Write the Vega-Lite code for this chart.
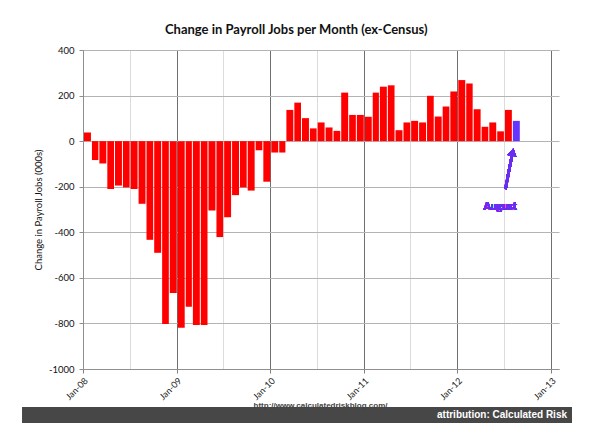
{
  "$schema": "https://vega.github.io/schema/vega-lite/v6.json",
  "background": "white",
  "padding": {"left": 22, "top": 24, "right": 5, "bottom": 2},
  "spacing": 0,
  "config": {"view": {"stroke": null}, "font": "Lato"},
  "vconcat": [
    {
      "title": {"text": "Change in Payroll Jobs per Month (ex-Census)", "font": "Lato", "fontSize": 13, "fontWeight": "bold", "color": "#111111", "anchor": "middle", "frame": "bounds", "offset": 8},
      "width": 476,
      "height": 319,
      "data": {"values": [
        {"month": "2008-01-01", "change": 38, "status": "earlier"},
        {"month": "2008-02-01", "change": -83, "status": "earlier"},
        {"month": "2008-03-01", "change": -98, "status": "earlier"},
        {"month": "2008-04-01", "change": -210, "status": "earlier"},
        {"month": "2008-05-01", "change": -195, "status": "earlier"},
        {"month": "2008-06-01", "change": -203, "status": "earlier"},
        {"month": "2008-07-01", "change": -210, "status": "earlier"},
        {"month": "2008-08-01", "change": -275, "status": "earlier"},
        {"month": "2008-09-01", "change": -433, "status": "earlier"},
        {"month": "2008-10-01", "change": -490, "status": "earlier"},
        {"month": "2008-11-01", "change": -803, "status": "earlier"},
        {"month": "2008-12-01", "change": -666, "status": "earlier"},
        {"month": "2009-01-01", "change": -819, "status": "earlier"},
        {"month": "2009-02-01", "change": -727, "status": "earlier"},
        {"month": "2009-03-01", "change": -807, "status": "earlier"},
        {"month": "2009-04-01", "change": -807, "status": "earlier"},
        {"month": "2009-05-01", "change": -304, "status": "earlier"},
        {"month": "2009-06-01", "change": -421, "status": "earlier"},
        {"month": "2009-07-01", "change": -334, "status": "earlier"},
        {"month": "2009-08-01", "change": -237, "status": "earlier"},
        {"month": "2009-09-01", "change": -203, "status": "earlier"},
        {"month": "2009-10-01", "change": -217, "status": "earlier"},
        {"month": "2009-11-01", "change": -40, "status": "earlier"},
        {"month": "2009-12-01", "change": -178, "status": "earlier"},
        {"month": "2010-01-01", "change": -50, "status": "earlier"},
        {"month": "2010-02-01", "change": -50, "status": "earlier"},
        {"month": "2010-03-01", "change": 137, "status": "earlier"},
        {"month": "2010-04-01", "change": 169, "status": "earlier"},
        {"month": "2010-05-01", "change": 101, "status": "earlier"},
        {"month": "2010-06-01", "change": 56, "status": "earlier"},
        {"month": "2010-07-01", "change": 82, "status": "earlier"},
        {"month": "2010-08-01", "change": 60, "status": "earlier"},
        {"month": "2010-09-01", "change": 45, "status": "earlier"},
        {"month": "2010-10-01", "change": 213, "status": "earlier"},
        {"month": "2010-11-01", "change": 115, "status": "earlier"},
        {"month": "2010-12-01", "change": 115, "status": "earlier"},
        {"month": "2011-01-01", "change": 107, "status": "earlier"},
        {"month": "2011-02-01", "change": 213, "status": "earlier"},
        {"month": "2011-03-01", "change": 239, "status": "earlier"},
        {"month": "2011-04-01", "change": 245, "status": "earlier"},
        {"month": "2011-05-01", "change": 48, "status": "earlier"},
        {"month": "2011-06-01", "change": 82, "status": "earlier"},
        {"month": "2011-07-01", "change": 89, "status": "earlier"},
        {"month": "2011-08-01", "change": 82, "status": "earlier"},
        {"month": "2011-09-01", "change": 199, "status": "earlier"},
        {"month": "2011-10-01", "change": 108, "status": "earlier"},
        {"month": "2011-11-01", "change": 152, "status": "earlier"},
        {"month": "2011-12-01", "change": 218, "status": "earlier"},
        {"month": "2012-01-01", "change": 268, "status": "earlier"},
        {"month": "2012-02-01", "change": 253, "status": "earlier"},
        {"month": "2012-03-01", "change": 140, "status": "earlier"},
        {"month": "2012-04-01", "change": 63, "status": "earlier"},
        {"month": "2012-05-01", "change": 82, "status": "earlier"},
        {"month": "2012-06-01", "change": 43, "status": "earlier"},
        {"month": "2012-07-01", "change": 137, "status": "earlier"},
        {"month": "2012-08-01", "change": 89, "status": "latest"}
      ]},
      "layer": [
        {
          "mark": {"type": "bar"},
          "encoding": {
            "x": {
              "field": "month", "timeUnit": "utcyearmonth", "type": "temporal",
              "scale": {"type": "utc", "domain": [{"year": 2008, "month": 1, "date": 1, "utc": true}, {"year": 2013, "month": 2, "date": 1, "utc": true}]},
              "axis": {
                "values": [
                  {"year": 2008, "month": 1, "date": 1, "utc": true}, {"year": 2008, "month": 4, "date": 1, "utc": true}, {"year": 2008, "month": 7, "date": 1, "utc": true}, {"year": 2008, "month": 10, "date": 1, "utc": true},
                  {"year": 2009, "month": 1, "date": 1, "utc": true}, {"year": 2009, "month": 4, "date": 1, "utc": true}, {"year": 2009, "month": 7, "date": 1, "utc": true}, {"year": 2009, "month": 10, "date": 1, "utc": true},
                  {"year": 2010, "month": 1, "date": 1, "utc": true}, {"year": 2010, "month": 4, "date": 1, "utc": true}, {"year": 2010, "month": 7, "date": 1, "utc": true}, {"year": 2010, "month": 10, "date": 1, "utc": true},
                  {"year": 2011, "month": 1, "date": 1, "utc": true}, {"year": 2011, "month": 4, "date": 1, "utc": true}, {"year": 2011, "month": 7, "date": 1, "utc": true}, {"year": 2011, "month": 10, "date": 1, "utc": true},
                  {"year": 2012, "month": 1, "date": 1, "utc": true}, {"year": 2012, "month": 4, "date": 1, "utc": true}, {"year": 2012, "month": 7, "date": 1, "utc": true}, {"year": 2012, "month": 10, "date": 1, "utc": true},
                  {"year": 2013, "month": 1, "date": 1, "utc": true}
                ],
                "labelExpr": "utcmonth(datum.value) === 0 ? utcFormat(datum.value, '%b-%y') : ''",
                "labelAngle": -45,
                "labelFont": "Lato",
                "labelFontSize": 9,
                "labelColor": "#222222",
                "labelOverlap": false,
                "labelPadding": 3,
                "tickSize": 4,
                "tickColor": "#7f7f7f",
                "tickOpacity": {"condition": {"test": "utcmonth(datum.value) === 0", "value": 1}, "value": 0},
                "grid": true,
                "gridColor": {"condition": {"test": "utcmonth(datum.value) === 0", "value": "#6f6f6f"}, "value": "#dcdcdc"},
                "domainColor": "#8f8f8f",
                "title": null
              }
            },
            "y": {
              "field": "change", "type": "quantitative",
              "scale": {"domain": [-1000, 400], "nice": false},
              "axis": {
                "values": [-1000, -900, -800, -700, -600, -500, -400, -300, -200, -100, 0, 100, 200, 300, 400],
                "labelExpr": "datum.value % 200 === 0 ? toString(datum.value) : ''",
                "labelFont": "Lato",
                "labelFontSize": 9.5,
                "labelColor": "#111111",
                "labelOverlap": false,
                "labelPadding": 5,
                "tickSize": 4,
                "tickColor": "#8f8f8f",
                "tickOpacity": {"condition": {"test": "datum.value % 200 === 0", "value": 1}, "value": 0},
                "grid": true,
                "gridColor": {"condition": {"test": "datum.value % 200 === 0", "value": "#b4b4b4"}, "value": "#e4e4e4"},
                "domainColor": "#8f8f8f",
                "title": "Change in Payroll Jobs (000s)",
                "titleFont": "Lato",
                "titleFontSize": 9.5,
                "titleFontWeight": "normal",
                "titleColor": "#111111",
                "titlePadding": 5
              }
            },
            "color": {"field": "status", "type": "nominal", "scale": {"domain": ["earlier", "latest"], "range": ["#ff0000", "#6633ff"]}, "legend": null}
          }
        },
        {
          "mark": {"type": "rule", "color": "#6a2cf0", "strokeWidth": 2.5},
          "encoding": {
            "x": {"datum": {"year": 2012, "month": 7, "date": 7, "utc": true}, "type": "temporal"},
            "y": {"datum": -210, "type": "quantitative"},
            "x2": {"datum": {"year": 2012, "month": 8, "date": 1, "utc": true}},
            "y2": {"datum": -65}
          }
        },
        {
          "mark": {"type": "point", "shape": "triangle-up", "filled": true, "size": 75, "angle": 10, "color": "#6a2cf0", "opacity": 1},
          "encoding": {
            "x": {"datum": {"year": 2012, "month": 8, "date": 4, "utc": true}, "type": "temporal"},
            "y": {"datum": -48, "type": "quantitative"}
          }
        },
        {
          "mark": {"type": "text", "text": "August", "font": "Lato", "fontSize": 10.5, "fontWeight": "bold", "color": "#6a2cf0"},
          "encoding": {
            "x": {"datum": {"year": 2012, "month": 6, "date": 16, "utc": true}, "type": "temporal"},
            "y": {"datum": -287, "type": "quantitative"}
          }
        }
      ]
    },
    {
      "title": {"text": "http://www.calculatedriskblog.com/", "font": "Liberation Sans", "fontSize": 8, "fontWeight": "bold", "color": "#444444", "anchor": "middle", "orient": "top", "offset": -3, "dx": -7},
      "width": 489,
      "height": 16,
      "view": {"stroke": null},
      "data": {"values": [{"label": "attribution: Calculated Risk"}]},
      "layer": [
        {
          "mark": {"type": "rect", "color": "#474747"},
          "encoding": {
            "x": {"datum": -0.1247, "type": "quantitative", "scale": {"domain": [0, 1]}, "axis": null},
            "x2": {"datum": 1}
          }
        },
        {
          "mark": {"type": "text", "font": "Liberation Sans", "fontSize": 10, "fontWeight": "bold", "color": "white", "align": "right", "dx": -5},
          "encoding": {
            "text": {"field": "label", "type": "nominal"},
            "x": {"datum": 1, "type": "quantitative"}
          }
        }
      ]
    }
  ]
}
